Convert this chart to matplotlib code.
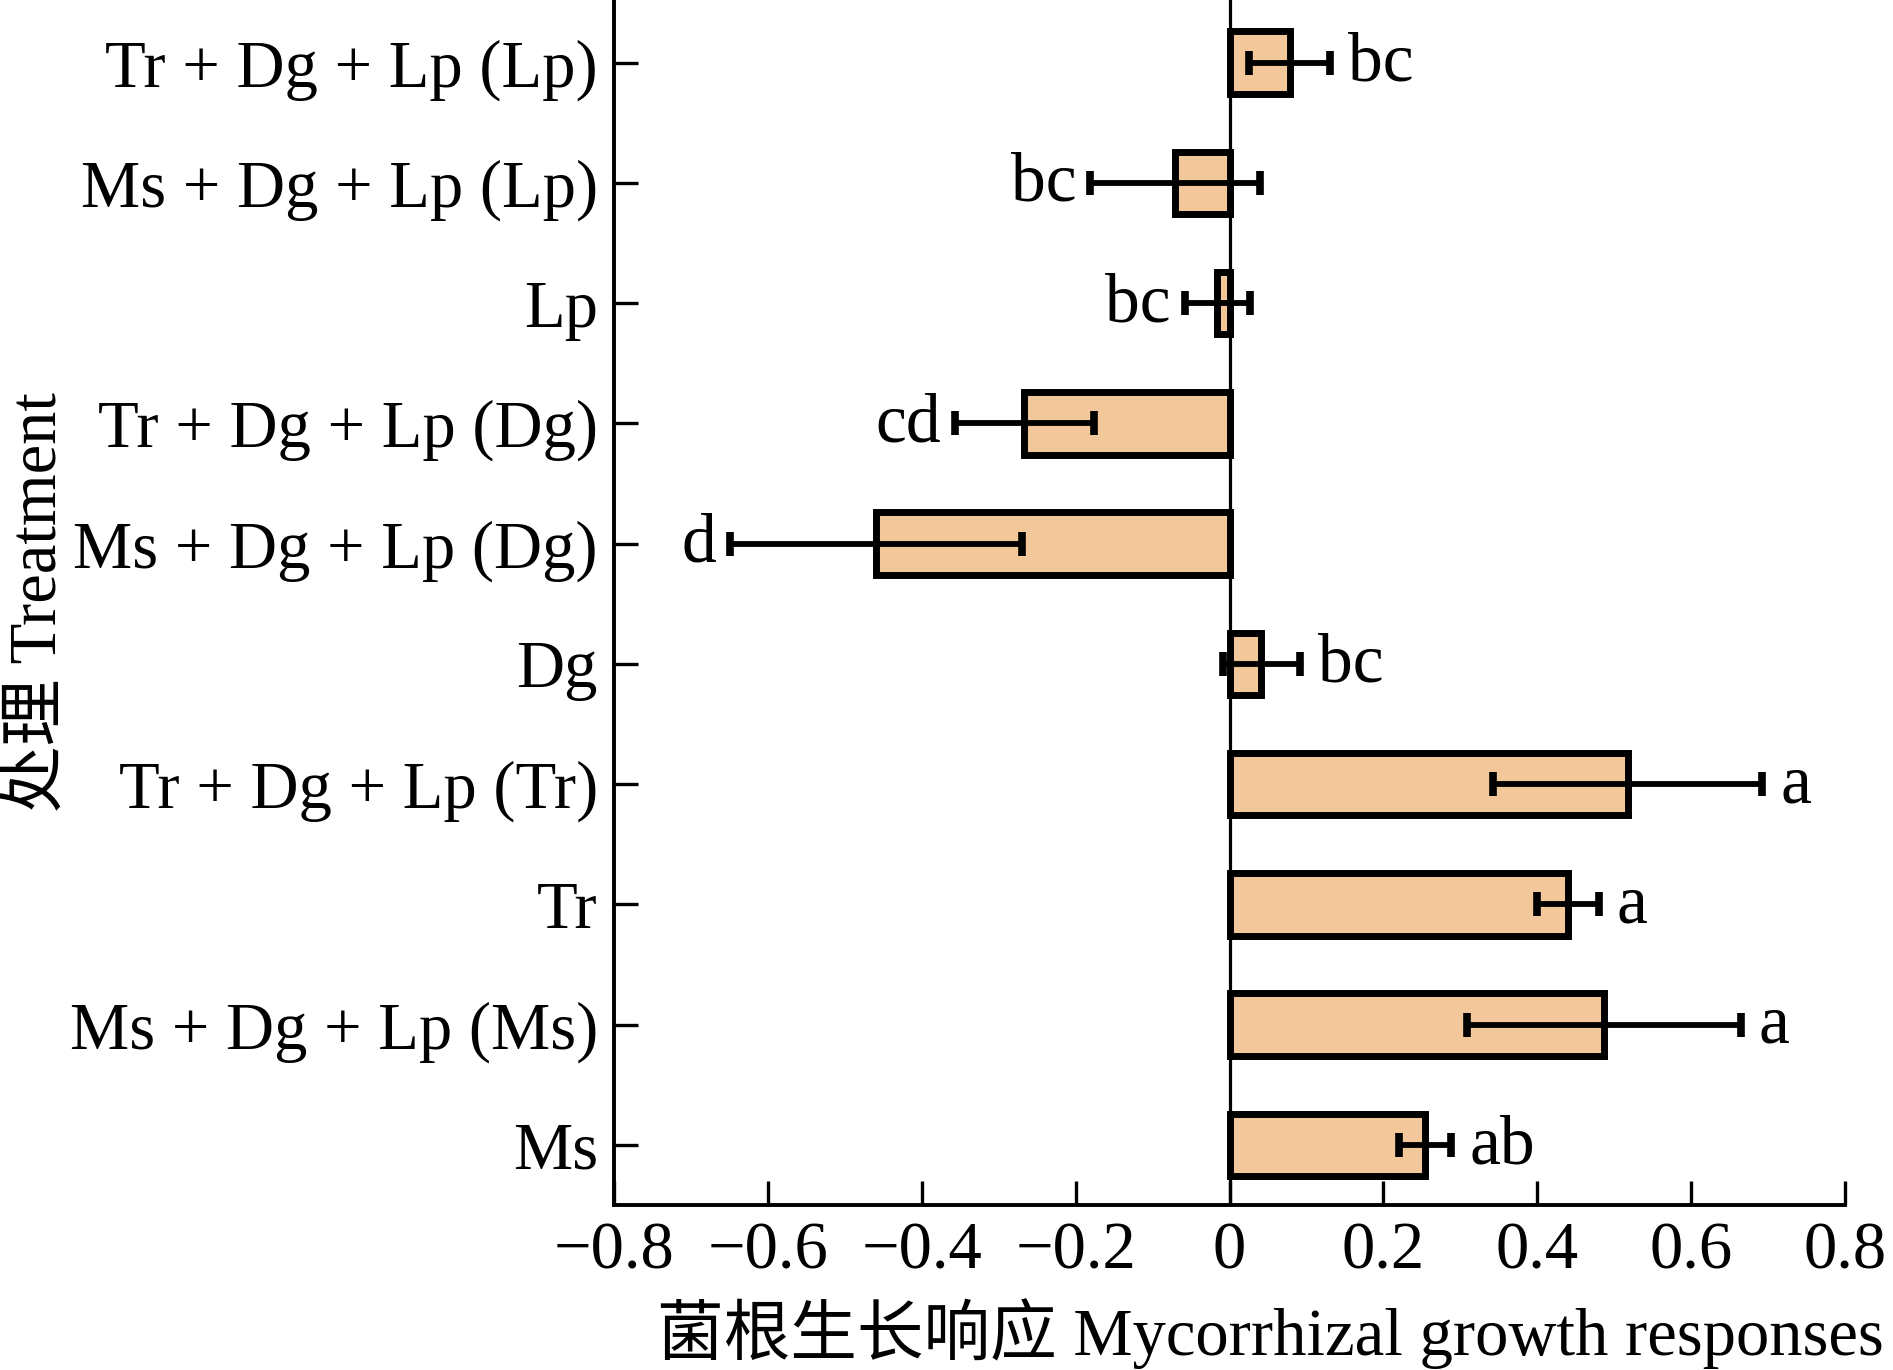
import numpy as np
import matplotlib
matplotlib.use("Agg")
import matplotlib.pyplot as plt

plt.rcParams['font.family'] = ['Liberation Serif', 'Noto Sans CJK SC']
plt.rcParams['axes.unicode_minus'] = True

# data, bottom to top
treatments = ['Ms', 'Ms + Dg + Lp (Ms)', 'Tr', 'Tr + Dg + Lp (Tr)', 'Dg',
              'Ms + Dg + Lp (Dg)', 'Tr + Dg + Lp (Dg)', 'Lp',
              'Ms + Dg + Lp (Lp)', 'Tr + Dg + Lp (Lp)']
mgr = [0.254, 0.487, 0.440, 0.518, 0.041, -0.460, -0.267, -0.016, -0.071, 0.078]
err = [0.034, 0.178, 0.040, 0.175, 0.050, 0.190, 0.090, 0.042, 0.110, 0.053]
letters = ['ab', 'a', 'a', 'a', 'bc', 'd', 'cd', 'bc', 'bc', 'bc']

fig = plt.figure(figsize=(18.93, 13.70), dpi=100)
ax = fig.add_axes([0.3246, 0.1204, 0.6499, 0.8796])

y = np.arange(len(treatments))
ax.barh(y, mgr, height=0.52, color='#F2C79A', edgecolor='black', linewidth=5, zorder=2)
ax.errorbar(mgr, y, xerr=err, fmt='none', ecolor='black', elinewidth=4.2,
            capsize=8.5, capthick=5.5, zorder=3)
ax.axvline(0, color='black', linewidth=2.3, zorder=1)

# significance letters
for yi, v, e, lab in zip(y, mgr, err, letters):
    if v >= 0:
        ax.annotate(lab, (v + e, yi), xytext=(13, -1), textcoords='offset points',
                    ha='left', va='center', fontsize=50)
    else:
        ax.annotate(lab, (v - e, yi), xytext=(-10, -1), textcoords='offset points',
                    ha='right', va='center', fontsize=50)

ax.set_xlim(-0.8, 0.8)
ax.set_ylim(-0.5, 9.52)
ax.set_xticks(np.arange(-0.8, 0.81, 0.2))
ax.set_xticklabels(['\u22120.8', '\u22120.6', '\u22120.4', '\u22120.2', '0',
                    '0.2', '0.4', '0.6', '0.8'])
ax.set_yticks(y)
ax.set_yticklabels(treatments)
ax.tick_params(axis='both', direction='in', length=17, width=2.4, labelsize=48)
ax.tick_params(axis='x', pad=12)
ax.tick_params(axis='y', pad=12)

for s in ['top', 'right']:
    ax.spines[s].set_visible(False)
for s in ['left', 'bottom']:
    ax.spines[s].set_linewidth(2.8)

ax.set_xlabel('菌根生长响应 Mycorrhizal growth responses', fontsize=48, va='center')
ax.xaxis.set_label_coords(0.533, -0.107)
ax.set_ylabel('处理 Treatment', fontsize=48, va='center')
ax.yaxis.set_label_coords(-0.468, 0.5)

fig.savefig('out.png', dpi=100)
